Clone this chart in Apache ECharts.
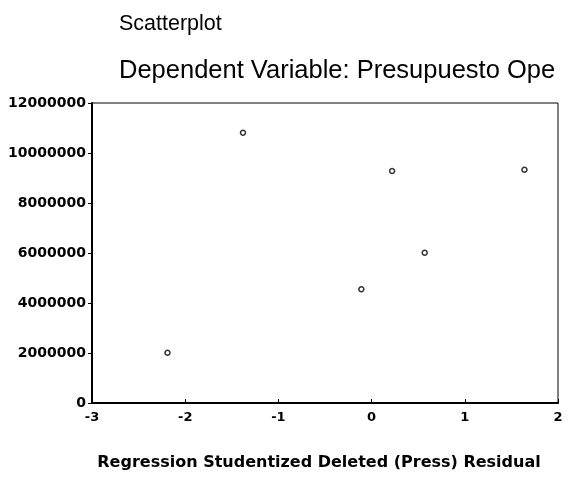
<!DOCTYPE html>
<html>
<head>
<meta charset="utf-8">
<script src="https://cdn.jsdelivr.net/npm/echarts@6/dist/echarts.min.js"></script>
<style>
  html, body { margin: 0; padding: 0; background: #fff; }
  #chart { width: 574px; height: 477px; }
</style>
</head>
<body>
<div id="chart"></div>
<script>
// 残差 (x) 与 预算 (y)
const residuals = [-2.19, -1.38, -0.11, 0.22, 0.57, 1.64];
const budgets = [2010000, 10810000, 4550000, 9280000, 6010000, 9330000];
const xTicks = [-3, -2, -1, 0, 1, 2];
const yTicks = [0, 2000000, 4000000, 6000000, 8000000, 10000000, 12000000];

const points = residuals.map((r, i) => [r, budgets[i]]);

const chart = echarts.init(document.getElementById('chart'));
const titleFont = 'Liberation Sans, Arial, sans-serif';
const labelFont = 'DejaVu Sans, sans-serif';

chart.setOption({
    animation: false,
    backgroundColor: '#fff',
    title: [
        {
            text: 'Scatterplot',
            left: 114, top: 8,
            textStyle: { fontFamily: titleFont, fontSize: 21.5, fontWeight: 'normal', color: '#000' }
        },
        {
            text: 'Dependent Variable: Presupuesto Ope',
            left: 114, top: 53,
            textStyle: { fontFamily: titleFont, fontSize: 25.5, fontWeight: 'normal', color: '#000' }
        }
    ],
    grid: {
        left: 92, right: 16, top: 103, bottom: 74,
        outerBoundsMode: 'none',
        show: true, borderColor: '#000', borderWidth: 1
    },
    xAxis: {
        type: 'value',
        min: xTicks[0],
        max: xTicks[xTicks.length - 1],
        interval: 1,
        name: 'Regression Studentized Deleted (Press) Residual',
        nameLocation: 'middle',
        nameGap: 52,
        nameTextStyle: {
            fontFamily: labelFont, fontSize: 16, fontWeight: 'bold', color: '#000',
            padding: [0, 12, 0, 0]
        },
        axisLine: { onZero: false, lineStyle: { color: '#000', width: 2 } },
        axisTick: { inside: true, length: 4, lineStyle: { color: '#000' } },
        axisLabel: { fontFamily: labelFont, fontSize: 13, fontWeight: 'bold', color: '#000', margin: 8 },
        splitLine: { show: false }
    },
    yAxis: {
        type: 'value',
        min: yTicks[0],
        max: yTicks[yTicks.length - 1],
        interval: 2000000,
        axisLine: { show: true, onZero: false, lineStyle: { color: '#000', width: 2 } },
        axisTick: { show: true, length: 4, lineStyle: { color: '#000' } },
        axisLabel: {
            fontFamily: labelFont, fontSize: 14, fontWeight: 'bold', color: '#000', margin: 6,
            formatter: v => String(v)
        },
        splitLine: { show: false }
    },
    series: [
        {
            type: 'scatter',
            data: points,
            symbol: 'circle',
            symbolSize: 5,
            itemStyle: { color: '#fff', borderColor: '#000', borderWidth: 1.5 }
        }
    ]
});
</script>
</body>
</html>
